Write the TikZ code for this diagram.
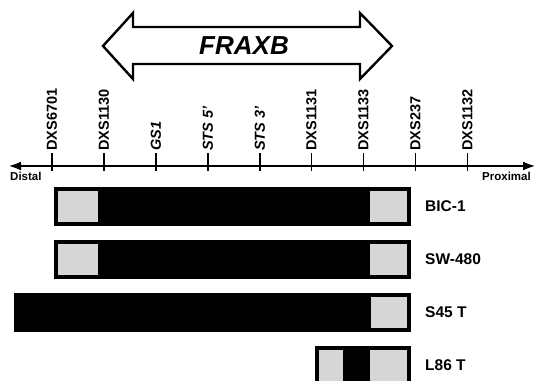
\documentclass[tikz,border=0pt]{standalone}
\usepackage{fontspec}
\setmainfont{Liberation Sans}
\usetikzlibrary{arrows.meta}
\tikzset{
  marker/.style={rotate=90, anchor=west, inner sep=1pt, font=\fontsize{14.5}{15}\selectfont\bfseries},
  imarker/.style={marker, font=\fontsize{14.5}{15}\selectfont\bfseries\itshape},
  tickline/.style={line width=1.2pt},
  axisline/.style={line width=2.6pt, {Latex[length=13pt,width=9pt]}-{Latex[length=13pt,width=9pt]}},
  endlabel/.style={font=\fontsize{11.5}{12}\selectfont\bfseries, inner sep=0pt},
  linelabel/.style={anchor=west, inner sep=0pt, font=\fontsize{15.5}{16}\selectfont\bfseries},
  graybox/.style={fill=black!16},
  barfill/.style={fill=black},
  bigarrow/.style={draw=black, line width=2.4pt, fill=white, line join=miter}
}
\begin{document}
\begin{tikzpicture}[x=1pt, y=-1pt]
\useasboundingbox (0,0) rectangle (537,380);
% FRAXB double arrow
\draw[bigarrow] (103,46) -- (133,13) -- (133,27) -- (360,27) -- (360,13) -- (392,46)
  -- (360,79) -- (360,64) -- (133,64) -- (133,79) -- cycle;
\node[font=\fontsize{26}{28}\selectfont\bfseries\itshape] (fraxb) at (244,46) {FRAXB};
% axis
\coordinate (axL) at (8,166);
\coordinate (axR) at (536,166);
\draw[axisline] (axL) -- (axR);
\node[endlabel, anchor=north west] (distal) at (10,172) {Distal};
\node[endlabel, anchor=north east] (proximal) at (531,172) {Proximal};
% ticks and markers
\foreach \x/\name/\lab/\st in {52/m1/DXS6701/marker, 104/m2/DXS1130/marker, 156/m3/GS1/imarker,
  208/m4/STS 5'/imarker, 260/m5/STS 3'/imarker, 311.5/m6/DXS1131/marker, 363.5/m7/DXS1133/marker,
  415.5/m8/DXS237/marker, 467.5/m9/DXS1132/marker}{
  \coordinate (t\name) at (\x,153);
  \coordinate (b\name) at (\x,171);
  \draw[tickline] (t\name) -- (b\name);
  \node[\st] (\name) at (\x,152) {\lab};
}
% BIC-1
\fill[barfill] (54,187) rectangle (411,226);
\fill[graybox] (58,191) rectangle (98,222);
\fill[graybox] (370,191) rectangle (407,222);
\node[linelabel] (bic) at (425,206.5) {BIC-1};
% SW-480
\fill[barfill] (54,240) rectangle (411,279);
\fill[graybox] (58,244) rectangle (98,275);
\fill[graybox] (370,244) rectangle (407,275);
\node[linelabel] (sw) at (425,259.5) {SW-480};
% S45 T
\fill[barfill] (14,293) rectangle (411,332);
\fill[graybox] (371,297) rectangle (407,328);
\node[linelabel] (s45) at (425,312.5) {S45 T};
% L86 T
\fill[barfill] (315,346) rectangle (411,385);
\fill[graybox] (319,350) rectangle (343,385);
\fill[graybox] (370,350) rectangle (407,385);
\node[linelabel] (l86) at (425,365.5) {L86 T};
\end{tikzpicture}
\end{document}
